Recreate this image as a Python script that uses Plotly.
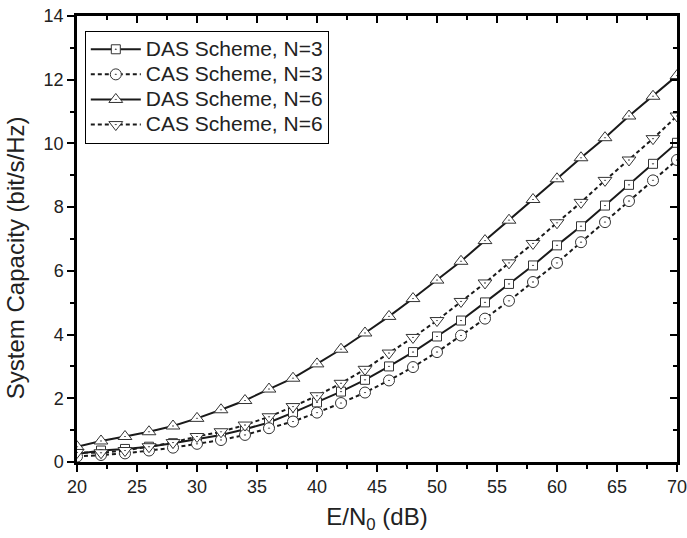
import plotly.graph_objects as go

snr_db = list(range(20, 71, 2))

das_n3 = [0.25, 0.36, 0.41, 0.48, 0.59, 0.71, 0.85, 1.03, 1.24, 1.55, 1.87, 2.21, 2.58,
          3.00, 3.45, 3.94, 4.44, 5.01, 5.59, 6.17, 6.80, 7.40, 8.05, 8.70, 9.36, 10.02]
cas_n3 = [0.17, 0.22, 0.27, 0.36, 0.45, 0.57, 0.69, 0.85, 1.06, 1.27, 1.55, 1.85, 2.18,
          2.56, 2.98, 3.45, 3.97, 4.50, 5.06, 5.65, 6.25, 6.90, 7.53, 8.19, 8.84, 9.48]
das_n6 = [0.48, 0.66, 0.80, 0.95, 1.13, 1.37, 1.64, 1.93, 2.29, 2.63, 3.08, 3.54, 4.05,
          4.57, 5.13, 5.71, 6.30, 6.95, 7.59, 8.24, 8.89, 9.55, 10.18, 10.86, 11.48, 12.13]
cas_n6 = [0.30, 0.29, 0.36, 0.48, 0.61, 0.80, 0.95, 1.16, 1.42, 1.74, 2.08, 2.47, 2.91,
          3.42, 3.91, 4.44, 5.04, 5.62, 6.25, 6.86, 7.51, 8.15, 8.84, 9.48, 10.15, 10.86]

series = [
    ("DAS Scheme, N=3", das_n3, "square-dot", "solid", 9),
    ("CAS Scheme, N=3", cas_n3, "circle-dot", "dash", 11),
    ("DAS Scheme, N=6", das_n6, "triangle-up-dot", "solid", 12),
    ("CAS Scheme, N=6", cas_n6, "triangle-down-dot", "dash", 12),
]

FONT = "Liberation Sans, Arial, sans-serif"

fig = go.Figure()
for name, ys, sym, dash, size in series:
    fig.add_trace(go.Scatter(
        x=snr_db, y=ys, mode="lines+markers",
        name='<span style="font-size:21px">' + name + '</span>',
        line=dict(color="#1a1a1a", width=2, dash="4px,3px" if dash == "dash" else "solid"),
        marker=dict(symbol=sym, size=size, color="white",
                    line=dict(color="#333333", width=1)),
    ))

# empty trace holding the mirror axes (top/right inward ticks)
fig.add_trace(go.Scatter(x=[None], y=[None], xaxis="x2", yaxis="y2",
                         showlegend=False, hoverinfo="skip", mode="markers"))

axis_common = dict(showline=True, linecolor="black", linewidth=2.5, showgrid=False,
                   zeroline=False, tickcolor="black", tickwidth=2, automargin=False,
                   tickfont=dict(family=FONT, size=18, color="#222"))

fig.update_layout(
    width=687, height=538,
    margin=dict(l=77, r=10, t=16, b=76, pad=0),
    paper_bgcolor="white", plot_bgcolor="white",
    font=dict(family=FONT, color="#222"),
    xaxis=dict(range=[20, 70], dtick=5, tick0=20, ticks="outside", ticklen=7,
               ticklabeloverflow="allow",
               minor=dict(dtick=2.5, ticks="outside", ticklen=4, tickcolor="black", tickwidth=2),
               title=dict(text="E/N<sub>0</sub> (dB)", font=dict(family=FONT, size=24), standoff=12),
               **axis_common),
    yaxis=dict(range=[0, 14], dtick=2, tick0=0, ticks="outside", ticklen=7,
               minor=dict(dtick=1, ticks="outside", ticklen=4, tickcolor="black", tickwidth=2),
               **axis_common),
    xaxis2=dict(range=[20, 70], overlaying="x", side="top", anchor="y2", dtick=5, tick0=20,
                ticks="inside", ticklen=7, showticklabels=False,
                minor=dict(dtick=2.5, ticks="inside", ticklen=4, tickcolor="black", tickwidth=2),
                **axis_common),
    yaxis2=dict(range=[0, 14], overlaying="y", side="right", anchor="x2", dtick=2, tick0=0,
                ticks="inside", ticklen=7, showticklabels=False,
                minor=dict(dtick=1, ticks="inside", ticklen=4, tickcolor="black", tickwidth=2),
                **axis_common),
    legend=dict(x=0.013, y=0.967, xanchor="left", yanchor="top",
                bgcolor="white", bordercolor="black", borderwidth=1,
                font=dict(family=FONT, size=17, color="#222"),
                tracegroupgap=0, itemwidth=50),
    annotations=[dict(text="System Capacity (bit/s/Hz)", xref="paper", yref="paper",
                      x=0, y=0.457, xshift=-62, textangle=-90, showarrow=False,
                      xanchor="center", yanchor="middle",
                      font=dict(family=FONT, size=24, color="#222"))],
    showlegend=True,
)

fig.write_html("out.html")
